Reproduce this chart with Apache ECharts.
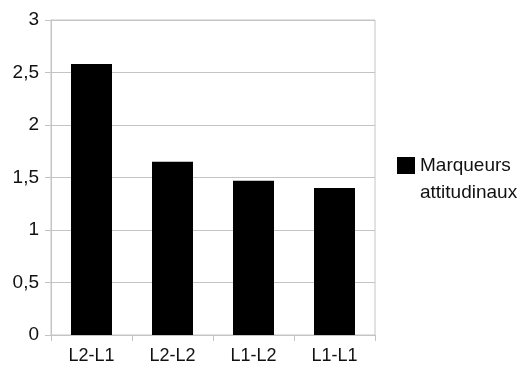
<!DOCTYPE html>
<html>
<head>
<meta charset="utf-8">
<script src="https://cdn.jsdelivr.net/npm/echarts@6/dist/echarts.min.js"></script>
<style>
html,body{margin:0;padding:0;background:#fff;}
#chart{width:525px;height:369px;}
</style>
</head>
<body>
<div id="chart"></div>
<script>
const categories = ['L2-L1', 'L2-L2', 'L1-L2', 'L1-L1'];
const seriesName = 'Marqueurs attitudinaux';
const values = [2.58, 1.65, 1.47, 1.40];
const yTicks = { min: 0, max: 3, interval: 0.5 };

const FONT = 'Liberation Sans, Arial, sans-serif';
const chart = echarts.init(document.getElementById('chart'), null, { renderer: 'canvas' });
chart.setOption({
  animation: false,
  backgroundColor: '#fff',
  grid: { left: 51, top: 20, width: 324, height: 315, show: true, borderColor: '#c4c4c4', borderWidth: 1 },
  legend: {
    orient: 'vertical', left: 397, top: 125, padding: 0,
    itemWidth: 18, itemHeight: 17, itemGap: 6,
    icon: 'rect',
    data: [seriesName],
    formatter: function () { return '\nMarqueurs\nattitudinaux'; },
    textStyle: { fontFamily: FONT, fontSize: 19, color: '#111', lineHeight: 27 }
  },
  xAxis: {
    type: 'category', data: categories,
    axisLine: { show: true, lineStyle: { color: '#c4c4c4', width: 1 } },
    axisTick: { show: true, length: 6, lineStyle: { color: '#c4c4c4' } },
    axisLabel: { fontFamily: FONT, fontSize: 18, color: '#111', margin: 12 },
    splitLine: { show: false }
  },
  yAxis: {
    type: 'value', min: yTicks.min, max: yTicks.max, interval: yTicks.interval,
    axisLine: { show: true, lineStyle: { color: '#c4c4c4', width: 1 } },
    axisTick: { show: true, length: 6, lineStyle: { color: '#c4c4c4' } },
    axisLabel: { fontFamily: FONT, fontSize: 19, color: '#111', margin: 12,
      formatter: function (v) { return String(v).replace('.', ','); } },
    splitLine: { show: true, lineStyle: { color: '#c4c4c4', width: 1 } }
  },
  series: [{
    name: seriesName, type: 'bar', data: values, barWidth: 41,
    itemStyle: { color: '#000' }
  }]
});
</script>
</body>
</html>
